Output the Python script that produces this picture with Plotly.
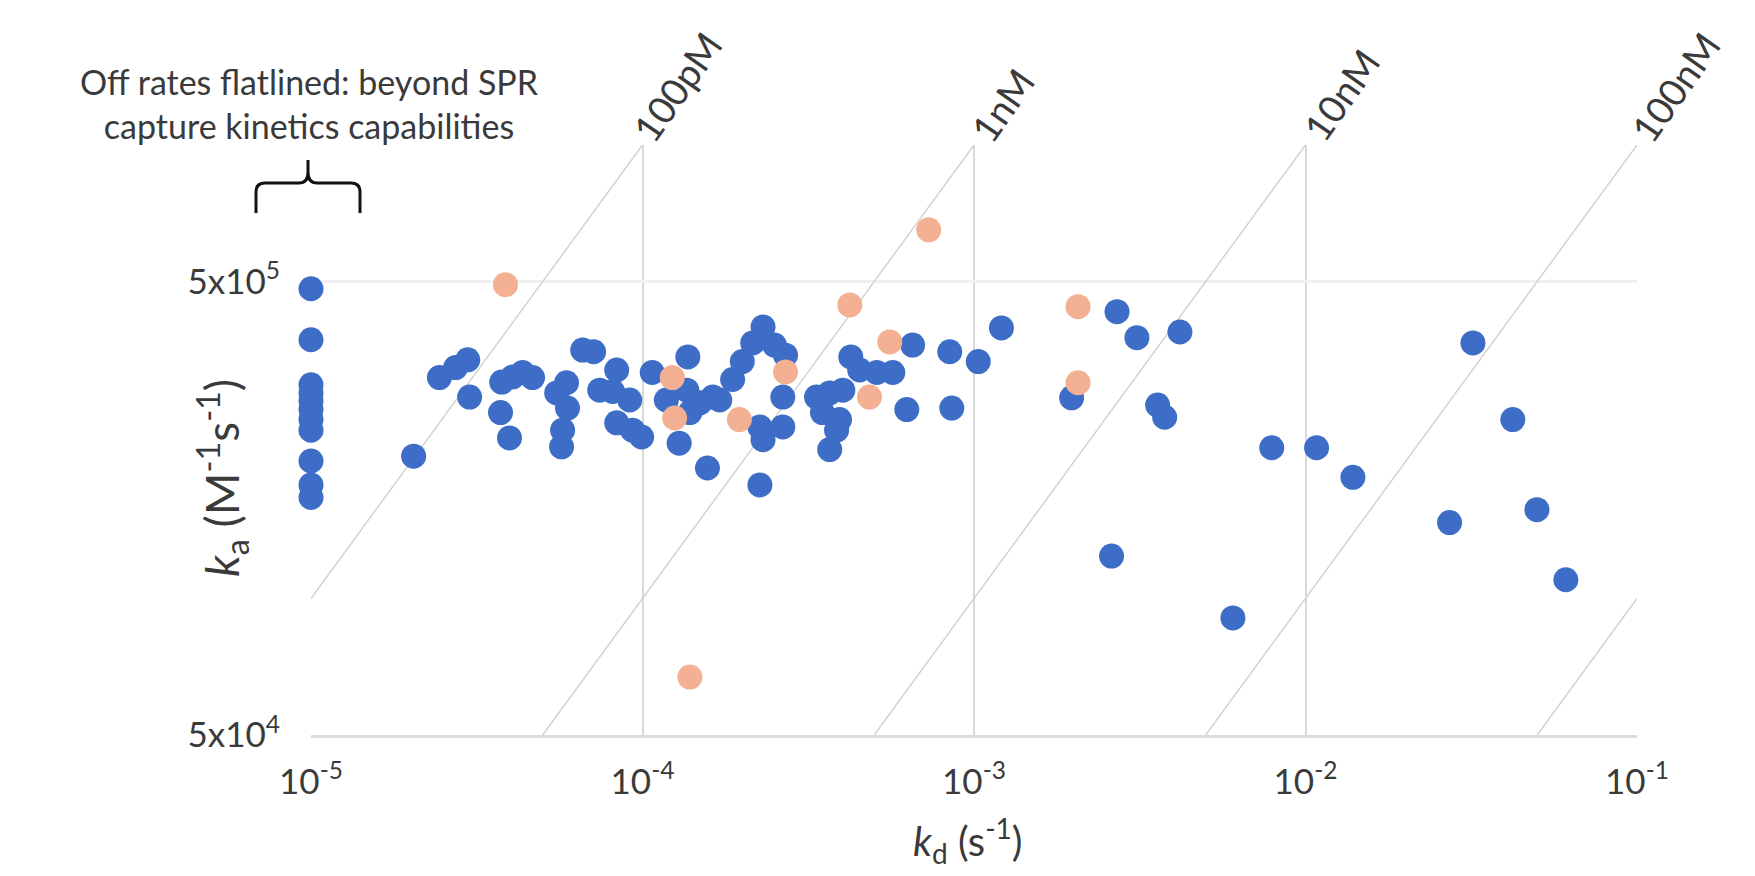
import math
import plotly.graph_objects as go

# ---------------- data ----------------
# antibodies whose off-rate flatlined at the instrument limit (kd = 1e-5 s^-1)
flat_kd = [1e-5] * 11
flat_ka = [4.82e5, 3.72e5, 2.96e5, 2.84e5, 2.73e5, 2.61e5, 2.48e5, 2.35e5, 2.01e5, 1.78e5, 1.67e5]

blue_kd = [2.04e-5, 2.44e-5, 2.73e-5, 2.97e-5, 3.01e-5, 3.76e-5, 4.06e-5, 4.35e-5, 4.66e-5, 3.73e-5,
           3.97e-5, 6.6e-5, 7.12e-5, 5.9e-5, 5.51e-5, 5.94e-5, 5.74e-5, 5.70e-5, 8.36e-5, 7.43e-5,
           8.13e-5, 9.15e-5, 8.36e-5, 9.33e-5, 9.94e-5, 1.07e-4, 1.37e-4, 1.18e-4, 1.36e-4, 1.49e-4,
           1.39e-4, 1.63e-4, 1.29e-4, 1.57e-4, 2.26e-4, 1.71e-4, 1.87e-4, 2.0e-4, 2.15e-4, 2.31e-4,
           2.5e-4, 2.7e-4, 2.65e-4, 2.31e-4, 2.26e-4, 2.65e-4, 4.25e-4, 4.52e-4, 5.09e-4, 5.69e-4,
           6.53e-4, 8.45e-4, 1.03e-3, 1.21e-3, 3.35e-4, 3.67e-4, 4.02e-4, 3.49e-4, 3.93e-4, 3.85e-4,
           3.67e-4, 6.27e-4, 8.57e-4, 2.7e-3, 3.1e-3, 4.18e-3, 1.97e-3, 3.58e-3, 3.76e-3, 2.6e-3,
           7.91e-3, 1.08e-2, 1.39e-2, 3.2e-2, 4.22e-2, 2.72e-2, 4.99e-2, 6.1e-2, 6.04e-3]
blue_ka = [2.06e5, 3.07e5, 3.23e5, 3.36e5, 2.78e5, 3.0e5, 3.08e5, 3.15e5, 3.07e5, 2.57e5,
           2.26e5, 3.53e5, 3.5e5, 2.99e5, 2.84e5, 2.63e5, 2.35e5, 2.16e5, 3.19e5, 2.88e5,
           2.86e5, 2.74e5, 2.44e5, 2.35e5, 2.27e5, 3.15e5, 3.41e5, 2.74e5, 2.88e5, 2.70e5,
           2.57e5, 2.78e5, 2.20e5, 1.94e5, 1.78e5, 2.74e5, 3.04e5, 3.33e5, 3.66e5, 3.97e5,
           3.62e5, 3.44e5, 2.78e5, 2.24e5, 2.39e5, 2.39e5, 3.41e5, 3.19e5, 3.15e5, 3.15e5,
           3.62e5, 3.5e5, 3.33e5, 3.95e5, 2.78e5, 2.84e5, 2.88e5, 2.57e5, 2.48e5, 2.35e5,
           2.13e5, 2.61e5, 2.63e5, 4.29e5, 3.76e5, 3.87e5, 2.77e5, 2.67e5, 2.51e5, 1.24e5,
           2.15e5, 2.15e5, 1.85e5, 3.66e5, 2.48e5, 1.47e5, 1.57e5, 1.10e5, 9.06e4]

orange_kd = [3.86e-5, 1.23e-4, 1.25e-4, 1.96e-4, 2.7e-4, 4.22e-4, 5.57e-4, 4.84e-4, 7.3e-4,
             2.06e-3, 2.06e-3, 1.39e-4]
orange_ka = [4.92e5, 3.07e5, 2.5e5, 2.48e5, 3.16e5, 4.44e5, 3.68e5, 2.78e5, 6.5e5,
             4.4e5, 2.99e5, 6.71e4]

# iso-affinity lines KD = kd / ka (M)
iso_kd_M = [1e-10, 1e-9, 1e-8, 1e-7, 1e-6]
iso_labels = ["100pM", "1nM", "10nM", "100nM", ""]

x_ticks = [1e-5, 1e-4, 1e-3, 1e-2, 1e-1]
x_ticktext = ["10<sup>-5</sup>", "10<sup>-4</sup>", "10<sup>-3</sup>", "10<sup>-2</sup>", "10<sup>-1</sup>"]
y_ticks = [5e4, 5e5]
y_ticktext = ["5x10<sup>4</sup>", "5x10<sup>5</sup>"]

x_range = (1e-5, 1e-1)
y_range = (5e4, 1e6)

note_text = "Off rates flatlined: beyond SPR<br>capture kinetics capabilities"
x_title = "<i>k</i><sub>d</sub> (s<sup>-1</sup>)"
y_title = "<i>k</i><sub>a</sub> (M<sup>-1</sup>s<sup>-1</sup>)"

# ---------------- style / layout ----------------
OFF = 8                      # default page (body) margin around the plot div
W, H = 1755 - OFF, 876 - OFF
PL, PR, PT, PB = 311, 1637, 145, 735      # plot-area edges in page pixels
ML, MT = PL - OFF, PT - OFF
MR, MB = (W + OFF) - PR, (H + OFF) - PB
PW, PH = PR - PL, PB - PT
FONT = "Lato, 'Open Sans', sans-serif"
TXT = "#3a3a3a"
BLUE = "#3d6dc6"
PEACH = "#f3b092"
GRID = "#d9d9d9"
ISO = "#d3d3d3"
label_shift = [(34, 58), (28, 40), (35, 50), (38, 58), (0, 0)]


def px_x(px):
    return (px - PL) / PW


def px_y(py):
    return (PB - py) / PH


fig = go.Figure()

for kdm in iso_kd_M:
    lo = max(x_range[0], kdm * y_range[0])
    hi = min(x_range[1], kdm * y_range[1])
    fig.add_trace(go.Scatter(x=[lo, hi], y=[lo / kdm, hi / kdm], mode="lines",
                             line=dict(color=ISO, width=1.5), hoverinfo="skip",
                             showlegend=False))

fig.add_trace(go.Scatter(x=flat_kd + blue_kd, y=flat_ka + blue_ka, mode="markers",
                         marker=dict(color=BLUE, size=25, line=dict(width=0)),
                         cliponaxis=False, showlegend=False))
fig.add_trace(go.Scatter(x=orange_kd, y=orange_ka, mode="markers",
                         marker=dict(color=PEACH, size=25, line=dict(width=0)),
                         cliponaxis=False, showlegend=False))

annotations = []
for kdm, lab, (dx, dy) in zip(iso_kd_M, iso_labels, label_shift):
    if not lab:
        continue
    hi = min(x_range[1], kdm * y_range[1])
    annotations.append(dict(x=math.log10(hi), y=math.log10(hi / kdm), xref="x", yref="y",
                            text=lab, showarrow=False, textangle=-55,
                            xanchor="center", yanchor="middle", xshift=dx, yshift=dy,
                            font=dict(family=FONT, size=38, color=TXT)))

annotations.append(dict(x=px_x(309), y=px_y(103), xref="paper", yref="paper", text=note_text,
                        showarrow=False, xanchor="center", yanchor="middle", align="center",
                        font=dict(family=FONT, size=34, color=TXT)))
annotations.append(dict(x=px_x(968), y=px_y(840), xref="paper", yref="paper", text=x_title,
                        showarrow=False, xanchor="center", yanchor="middle",
                        font=dict(family=FONT, size=40, color=TXT)))
annotations.append(dict(x=px_x(222), y=px_y(478), xref="paper", yref="paper", text=y_title,
                        showarrow=False, xanchor="center", yanchor="middle", textangle=-90,
                        font=dict(family=FONT, size=46, color=TXT)))

# curly brace above the flatlined column
bp = [(256, 213), (256, 192), (256, 183), (265, 183), (299, 183), (308, 183), (308, 172),
      (308, 160), (308, 183), (317, 183), (351, 183), (360, 183), (360, 192), (360, 213)]
P = [(px_x(a), px_y(b)) for a, b in bp]
path = ("M{0[0]},{0[1]} L{1[0]},{1[1]} Q{2[0]},{2[1]} {3[0]},{3[1]} L{4[0]},{4[1]} "
        "Q{5[0]},{5[1]} {6[0]},{6[1]} L{7[0]},{7[1]} M{6[0]},{6[1]} Q{8[0]},{8[1]} {9[0]},{9[1]} "
        "L{10[0]},{10[1]} Q{11[0]},{11[1]} {12[0]},{12[1]} L{13[0]},{13[1]}").format(*P)

shapes = [
    # edge gridlines (left one stops below the brace)
    dict(type="line", xref="x", yref="paper", x0=math.log10(x_range[0]), x1=math.log10(x_range[0]),
         y0=0, y1=px_y(217), line=dict(color=GRID, width=1.5), layer="below"),
    dict(type="line", xref="x", yref="paper", x0=math.log10(x_range[1]), x1=math.log10(x_range[1]),
         y0=0, y1=1, line=dict(color=GRID, width=1.5), layer="below"),
    dict(type="path", xref="paper", yref="paper", path=path,
         line=dict(color="#111111", width=3)),
]

fig.update_layout(
    width=W, height=H, margin=dict(l=ML, r=MR, t=MT, b=MB, autoexpand=False),
    paper_bgcolor="white", plot_bgcolor="white",
    font=dict(family=FONT, color=TXT),
    annotations=annotations, shapes=shapes, showlegend=False,
    xaxis=dict(type="log", range=[math.log10(x_range[0]), math.log10(x_range[1])],
               tickmode="array", tickvals=x_ticks, ticktext=x_ticktext,
               showgrid=True, gridcolor=GRID, gridwidth=1.5,
               showline=True, linecolor="#dcdcdc", linewidth=3, zeroline=False,
               ticks="", tickfont=dict(family=FONT, size=35, color=TXT),
               ticklabelstandoff=14),
    yaxis=dict(type="log", range=[math.log10(y_range[0]), math.log10(y_range[1])],
               tickmode="array", tickvals=y_ticks, ticktext=y_ticktext,
               showgrid=True, gridcolor="#f0f0f0", gridwidth=3,
               showline=False, zeroline=False, ticks="",
               tickfont=dict(family=FONT, size=35, color=TXT), ticklabelstandoff=30),
)

fig.write_html("out.html")
